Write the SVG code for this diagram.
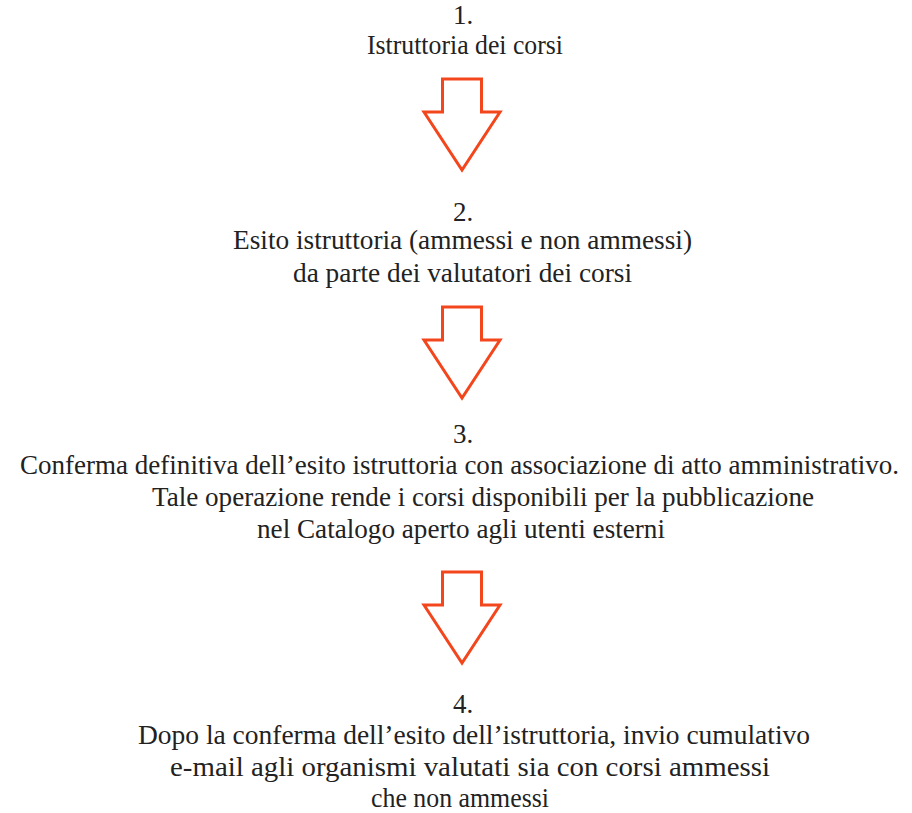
<svg xmlns="http://www.w3.org/2000/svg" width="912" height="813" viewBox="0 0 912 813">
<style>
text{font-family:"Liberation Serif","Times New Roman",serif;font-size:27px;fill:#222;text-anchor:middle}
.arrow{fill:#fff;stroke:#f4461c;stroke-width:3;stroke-linejoin:miter}
</style>
<defs>
<path id="down" class="arrow" d="M-19.5,0 H19.5 V33 H38 L0,91 L-38,33 H-19.5 Z"/>
</defs>
<rect width="912" height="813" fill="#fff"/>
<g id="step1">
<text x="463" y="24">1.</text>
<text x="465" y="54" textLength="196" lengthAdjust="spacingAndGlyphs">Istruttoria dei corsi</text>
</g>
<g id="step2">
<text x="463" y="221">2.</text>
<text x="462.5" y="249" textLength="459" lengthAdjust="spacingAndGlyphs">Esito istruttoria (ammessi e non ammessi)</text>
<text x="462.5" y="282" textLength="339" lengthAdjust="spacingAndGlyphs">da parte dei valutatori dei corsi</text>
</g>
<g id="step3">
<text x="463" y="443">3.</text>
<text x="459.5" y="474" textLength="879" lengthAdjust="spacingAndGlyphs">Conferma definitiva dell’esito istruttoria con associazione di atto amministrativo.</text>
<text x="483" y="506" textLength="662" lengthAdjust="spacingAndGlyphs">Tale operazione rende i corsi disponibili per la pubblicazione</text>
<text x="461" y="538" textLength="408" lengthAdjust="spacingAndGlyphs">nel Catalogo aperto agli utenti esterni</text>
</g>
<g id="step4">
<text x="463" y="713">4.</text>
<text x="474" y="744" textLength="672" lengthAdjust="spacingAndGlyphs">Dopo la conferma dell’esito dell’istruttoria, invio cumulativo</text>
<text x="470" y="776" textLength="600" lengthAdjust="spacingAndGlyphs">e-mail agli organismi valutati sia con corsi ammessi</text>
<text x="460" y="807" textLength="178" lengthAdjust="spacingAndGlyphs">che non ammessi</text>
</g>
<g id="connectors">
<use href="#down" x="462" y="79"/>
<use href="#down" x="462" y="307"/>
<use href="#down" x="462" y="572"/>
</g>
</svg>
